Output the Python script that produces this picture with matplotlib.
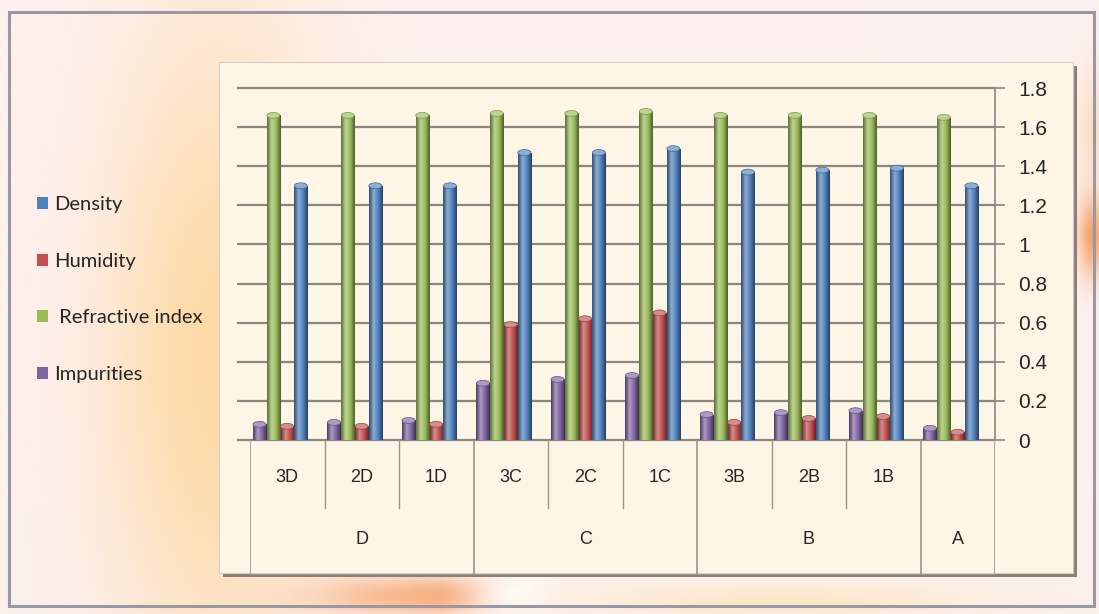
import numpy as np
import matplotlib
matplotlib.use("Agg")
import matplotlib.pyplot as plt
from matplotlib.colors import LinearSegmentedColormap, to_rgb
from matplotlib.patches import Rectangle, FancyBboxPatch, Ellipse

# data
categories = ["3D", "2D", "1D", "3C", "2C", "1C", "3B", "2B", "1B", ""]
groups = ["D", "C", "B", "A"]
group_sizes = [3, 3, 3, 1]
impurities = [0.08, 0.09, 0.10, 0.29, 0.31, 0.33, 0.13, 0.14, 0.15, 0.06]
refractive = [1.66, 1.66, 1.66, 1.67, 1.67, 1.68, 1.66, 1.66, 1.66, 1.65]
humidity = [0.07, 0.07, 0.08, 0.59, 0.62, 0.65, 0.09, 0.11, 0.12, 0.04]
density = [1.30, 1.30, 1.30, 1.47, 1.47, 1.49, 1.37, 1.38, 1.39, 1.30]
yticks = [0, 0.2, 0.4, 0.6, 0.8, 1, 1.2, 1.4, 1.6, 1.8]

series = [("Impurities", impurities, "#8064A2"),
          ("Refractive index", refractive, "#9BBB59"),
          ("Humidity", humidity, "#C0504D"),
          ("Density", density, "#4F81BD")]

W, H = 1099, 614
fig = plt.figure(figsize=(W / 100, H / 100), dpi=100)

def fx(px):
    return px / W

def fy(py):
    return 1 - py / H

# background wash
bg = fig.add_axes([0, 0, 1, 1], zorder=-10)
yy, xx = np.mgrid[0:H, 0:W]
img = np.ones((H, W, 3)) * np.array(to_rgb("#fdf1ef"))
def blob(cx, cy, sx, sy, col, amt=1.0):
    global img
    a = amt * np.exp(-((xx - cx) / sx) ** 2 - ((yy - cy) / sy) ** 2)
    img = img * (1 - a[..., None]) + np.array(to_rgb(col)) * a[..., None]
blob(215, 360, 110, 330, "#fdd9a2", 0.95)
blob(400, 595, 90, 20, "#f8b482", 0.9)
blob(440, 595, 30, 15, "#f5a070", 0.6)
blob(520, 595, 35, 20, "#ffffff", 0.9)
blob(780, 600, 200, 18, "#fce6be", 0.8)
blob(1092, 235, 14, 40, "#f49a5a", 0.9)
blob(1092, 130, 14, 60, "#fbd4ac", 0.6)
bg.imshow(img, extent=[0, 1, 0, 1], aspect="auto")
bg.set_xlim(0, 1)
bg.set_ylim(0, 1)
bg.axis("off")
bg.add_patch(FancyBboxPatch((fx(9), fy(606)), fx(1085), fy(12) - fy(606),
                            boxstyle="square,pad=0", fill=False,
                            edgecolor="#9a98a4", lw=2.2, transform=bg.transAxes))
# plot area panel with shadow
bg.add_patch(Rectangle((fx(223), fy(577)), fx(1077) - fx(223), fy(66) - fy(577),
                       facecolor="#8c7f78", edgecolor="none", transform=bg.transAxes))
bg.add_patch(Rectangle((fx(219), fy(573)), fx(1073) - fx(219), fy(62) - fy(573),
                       facecolor="#fdf6e7", edgecolor="#d8cfc4", lw=0.8,
                       transform=bg.transAxes))

# main bar axes
ax = fig.add_axes([fx(250), fy(440), fx(995) - fx(250), fy(88) - fy(440)])
ax.patch.set_alpha(0)
n = len(categories)
x = np.arange(n)
bw = 0.175
handles = []
for k, (name, vals, col) in enumerate(series):
    base = np.array(to_rgb(col))
    light = base + (1 - base) * 0.35
    cmap = LinearSegmentedColormap.from_list(
        name, [base * 0.6, light, base, base * 0.5])
    bars = ax.bar(x + 0.04 + k * 0.185, vals, width=bw, align="edge",
                  color=col, edgecolor="none", zorder=3, label=name)
    handles.append(bars)
    grad = np.linspace(0, 1, 64).reshape(1, -1)
    for b in bars:
        x0, w, h = b.get_x(), b.get_width(), b.get_height()
        im = ax.imshow(grad, extent=[x0, x0 + w, 0, h], aspect="auto",
                       cmap=cmap, zorder=4, origin="lower")
        im.set_clip_path(b)
        ax.add_patch(Ellipse((x0 + w / 2, h), w, 0.03, facecolor=light,
                             edgecolor=base * 0.8, lw=0.5, zorder=5))

ax.set_xlim(0, n)
ax.set_ylim(0, 1.8)
ax.hlines(yticks, -0.17, n, colors="#8a8680", lw=1.6, zorder=1, clip_on=False)
for s in ["top", "left", "bottom"]:
    ax.spines[s].set_visible(False)
ax.spines["right"].set_color("#8a8680")
ax.spines["right"].set_linewidth(1.2)
ax.yaxis.tick_right()
ax.set_yticks(yticks)
ax.set_yticklabels([f"{t:g}" for t in yticks], fontsize=15,
                   family="Liberation Sans", color="#262626")
ax.tick_params(axis="y", length=7, width=1.2, color="#8a8680", pad=10)
ax.set_xticks([])

# category table under the bars
tab = fig.add_axes([fx(250), fy(575), fx(995) - fx(250), fy(440) - fy(575)])
tab.patch.set_alpha(0)
tab.set_xlim(0, n)
tab.set_ylim(0, 1)
tab.axis("off")
lc = "#9a958e"
for i in range(n):
    if categories[i]:
        tab.text(i + 0.5, 0.72, categories[i], ha="center", va="center",
                 fontsize=13, family=["Liberation Sans Narrow", "Liberation Sans"],
                 color="#262626")
edges = np.cumsum([0] + group_sizes)
for i in range(1, n):
    if i not in edges:
        tab.plot([i, i], [0.5, 1], color=lc, lw=1)
for e in edges:
    tab.plot([e, e], [0, 1], color=lc, lw=1.2)
for g, a, b in zip(groups, edges[:-1], edges[1:]):
    tab.text((a + b) / 2, 0.26, g, ha="center", va="center", fontsize=13,
             family=["Liberation Sans Narrow", "Liberation Sans"], color="#262626")
tab.plot([0, n], [0, 0], color="#a09a92", lw=1.2)

# legend on the left, reversed order
leg = fig.legend([handles[3], handles[2], handles[1], handles[0]],
                 ["Density", "Humidity", " Refractive index", "Impurities"],
                 loc="upper left", bbox_to_anchor=(fx(19), fy(178)),
                 frameon=False, handlelength=0.55, handleheight=0.55,
                 handletextpad=0.3, labelspacing=1.97,
                 prop={"family": "Lato", "size": 14.5})
for t in leg.get_texts():
    t.set_color("#262626")

fig.savefig("out.png", dpi=100)
